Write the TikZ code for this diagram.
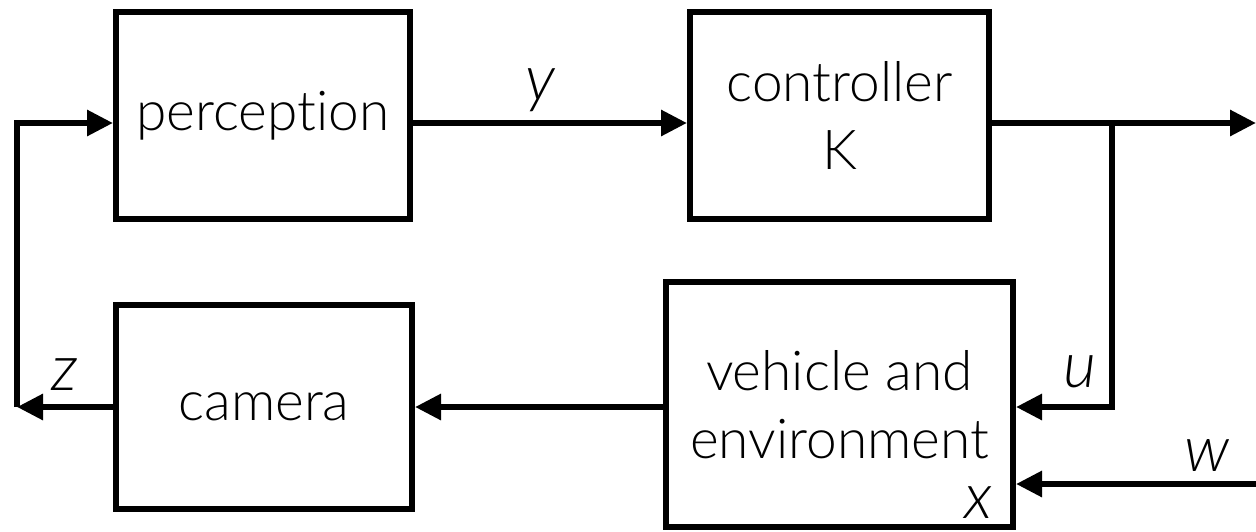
\documentclass[tikz,border=0pt]{standalone}
\usepackage{fontspec}
\setmainfont{Lato Light}[Ligatures=NoCommon, ItalicFont={Lato Light Italic}]
\usetikzlibrary{arrows.meta}
\begin{document}
\begin{tikzpicture}[x=1pt,y=-1pt,
  blk/.style={draw, line width=6pt, align=center, inner sep=0pt,
    font=\fontsize{55}{68}\selectfont},
  arr/.style={line width=6pt, -{Triangle[length=26pt,width=25pt]}},
  var/.style={font=\fontsize{64}{70}\itshape\selectfont, inner sep=0pt}]
\useasboundingbox (0,0) rectangle (1256,531);
% blocks
\node[blk, minimum width=294pt, minimum height=207pt] (per) at (263,115.5) {\raisebox{-6pt}{perception}};
\node[blk, minimum width=299pt, minimum height=207pt] (ctrl) at (839.5,115.5) {controller\\K};
\node[blk, minimum width=296pt, minimum height=204pt] (cam) at (264,407) {\raisebox{-4pt}{camera}};
\node[blk, minimum width=347pt, minimum height=245pt] (veh) at (839.5,404.5) {vehicle and\\environment};
% signal levels and free ends
\coordinate (ry) at (0,123);
\coordinate (ru) at (0,407);
\coordinate (j) at (1112,123);
\coordinate (out) at (1256,123);
\coordinate (win) at (1256,484);
\coordinate (zl) at (17,407);
% connectors
\draw[arr] (per.east |- ry) -- (ctrl.west |- ry);
\draw[arr] (ctrl.east |- ry) -- (out);
\draw[arr] (j) |- (veh.east |- ru);
\draw[arr] (win) -- (veh.east |- win);
\draw[arr] (veh.west |- ru) -- (cam.east |- ru);
\draw[arr] (cam.west |- ru) -- (zl);
\draw[arr] (zl) |- (per.west |- ry);
% signal labels
\node[var] (ly) at (540,90) {y};
\node[var] (lu) at (1080,372) {u};
\node[var] (lw) at (1207,455) {w};
\node[var] (lx) at (978,503) {x};
\node[var] (lz) at (65,375) {z};
\end{tikzpicture}
\end{document}
